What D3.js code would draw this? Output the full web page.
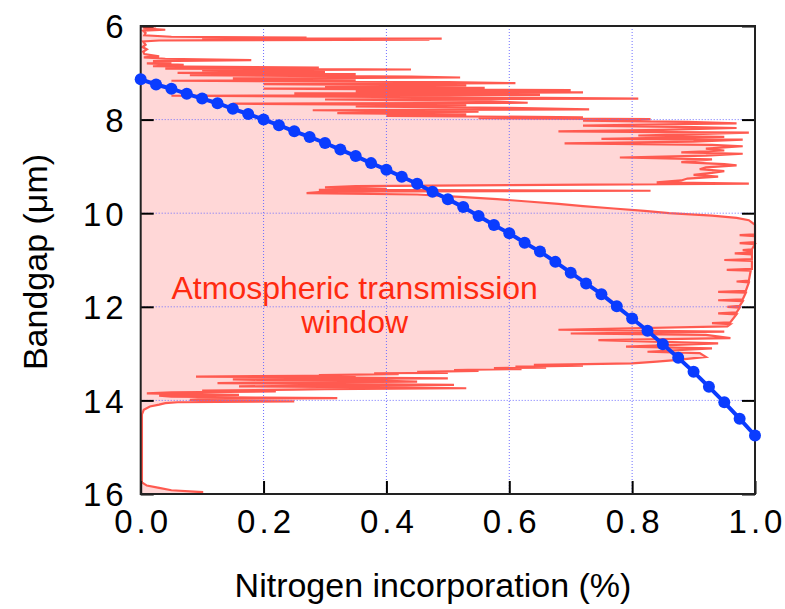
<!DOCTYPE html>
<html>
<head>
<meta charset="utf-8">
<script src="https://cdn.jsdelivr.net/npm/d3@7"></script>
<style>
  body { margin: 0; background: #fff; }
  text { font-family: "Liberation Sans", Arial, sans-serif; }
</style>
</head>
<body>
<div id="chart"></div>
<script>
// Bandgap vs nitrogen incorporation
const nitrogen = [0, 0.025, 0.05, 0.075, 0.1, 0.125, 0.15, 0.175, 0.2, 0.225, 0.25, 0.275, 0.3, 0.325, 0.35, 0.375,
    0.4, 0.425, 0.45, 0.475, 0.5, 0.525, 0.55, 0.575, 0.6, 0.625, 0.65, 0.675, 0.7, 0.725, 0.75, 0.775,
    0.8, 0.825, 0.85, 0.875, 0.9, 0.925, 0.95, 0.975, 1.0];
const bandgap = [7.14, 7.25, 7.34, 7.45, 7.55, 7.65, 7.77, 7.88, 8.00, 8.12, 8.25, 8.37, 8.50, 8.64, 8.78, 8.93,
    9.07, 9.22, 9.37, 9.54, 9.70, 9.87, 10.06, 10.25, 10.43, 10.63, 10.82, 11.04, 11.27, 11.50, 11.73, 11.99,
    12.25, 12.51, 12.80, 13.09, 13.39, 13.71, 14.04, 14.39, 14.75];

// Atmospheric transmission spectrum (wavelength in um, transmission 0..1)
const specWl = [6.00, 6.01, 6.02, 6.04, 6.05, 6.08, 6.10, 6.15, 6.20, 6.23, 6.25, 6.26, 6.27, 6.28, 6.29, 6.31, 6.33,
    6.40, 6.45, 6.50, 6.55, 6.60, 6.65, 6.67, 6.70, 6.73, 6.75, 6.78, 6.80, 6.83, 6.86, 6.89, 6.91, 6.93, 6.95, 6.98,
    7.00, 7.03, 7.05, 7.08, 7.10, 7.12, 7.15, 7.17, 7.20, 7.22, 7.24, 7.27, 7.29, 7.32, 7.34, 7.37, 7.39, 7.42, 7.44,
    7.47, 7.49, 7.52, 7.55, 7.57, 7.60, 7.64, 7.66, 7.69, 7.72, 7.75, 7.78, 7.80, 7.83, 7.86, 7.89, 7.92, 7.95, 7.97,
    7.99, 8.02, 8.05, 8.08, 8.11, 8.13, 8.16, 8.18, 8.22, 8.25, 8.28, 8.31, 8.34, 8.37, 8.41, 8.43, 8.47, 8.51, 8.54,
    8.57, 8.62, 8.66, 8.70, 8.73, 8.77, 8.81, 8.85, 8.91, 8.95, 8.98, 9.02, 9.06, 9.10, 9.14, 9.18, 9.22, 9.26, 9.30,
    9.34, 9.37, 9.40, 9.42, 9.45, 9.48, 9.50, 9.52, 9.54, 9.57, 9.60, 9.65, 9.70, 9.75, 9.80, 9.85, 9.90, 9.95, 10.00,
    10.05, 10.10, 10.15, 10.25, 10.45, 10.47, 10.49, 10.62, 10.64, 10.66, 10.77, 10.79, 10.81, 10.84, 10.86, 10.88,
    10.98, 11.00, 11.02, 11.19, 11.21, 11.23, 11.44, 11.46, 11.48, 11.66, 11.68, 11.70, 11.84, 11.86, 11.88, 11.98,
    12.00, 12.02, 12.12, 12.14, 12.16, 12.33, 12.35, 12.37, 12.42, 12.49, 12.53, 12.57, 12.60, 12.67,
    12.71, 12.78, 12.85, 12.89, 12.96, 12.99, 13.07, 13.14, 13.17, 13.21, 13.23, 13.24, 13.26, 13.28, 13.30, 13.31,
    13.33, 13.35, 13.37, 13.39, 13.41, 13.42, 13.44, 13.46, 13.47, 13.49, 13.51, 13.53, 13.55, 13.56, 13.58, 13.60,
    13.62, 13.63, 13.65, 13.67, 13.69, 13.70, 13.72, 13.74, 13.76, 13.77, 13.79, 13.81, 13.83, 13.85, 13.87, 13.88,
    13.90, 13.92, 13.94, 13.95, 13.97, 13.99, 14.01, 14.02, 14.04, 14.06, 14.09, 14.13, 14.20, 14.30,
    15.75, 15.82, 15.87, 15.92, 15.96, 16.00];
const specT = [0.01, 0.025, 0.004, 0.02, 0.004, 0.04, 0.004, 0.008, 0.006, 0.05, 0.27, 0.10, 0.49, 0.15, 0.47, 0.03, 0.004,
    0.008, 0.003, 0.01, 0.004, 0.006, 0.03, 0.005, 0.04, 0.18, 0.02, 0.05, 0.01, 0.07, 0.02, 0.29, 0.04, 0.44, 0.10, 0.30,
    0.06, 0.35, 0.08, 0.44, 0.52, 0.15, 0.35, 0.05, 0.50, 0.61, 0.20, 0.53, 0.30, 0.56, 0.20, 0.70, 0.35, 0.72, 0.25,
    0.65, 0.05, 0.45, 0.81, 0.30, 0.55, 0.63, 0.15, 0.53, 0.35, 0.60, 0.73, 0.28, 0.55, 0.32, 0.53, 0.40, 0.72, 0.55,
    0.83, 0.72, 0.89, 0.97, 0.80, 0.72, 0.90, 0.97, 0.85, 0.68, 0.99, 0.90, 0.81, 0.95, 0.75, 0.98, 0.90, 0.69, 0.93,
    0.98, 0.92, 0.95, 0.88, 0.98, 0.92, 0.78, 0.93, 0.88, 0.95, 0.97, 0.92, 0.91, 0.95, 0.93, 0.90, 0.94, 0.89, 0.88,
    0.84, 0.99, 0.60, 0.35, 0.30, 0.40, 0.29, 0.83, 0.30, 0.27, 0.45, 0.52, 0.58, 0.63, 0.68, 0.72, 0.77, 0.82, 0.86,
    0.93, 0.97, 0.99, 1.0, 1.0, 0.975, 1.0, 1.0, 0.975, 1.0, 0.995, 0.98, 0.995, 0.995, 0.967, 0.995,
    0.995, 0.95, 0.995, 0.995, 0.954, 0.993, 0.99, 0.97, 0.99, 0.985, 0.94, 0.985, 0.98, 0.94, 0.98, 0.975,
    0.955, 0.975, 0.97, 0.94, 0.97, 0.96, 0.93, 0.96, 0.955, 0.68, 0.95, 0.70, 0.92, 0.96,
    0.745, 0.94, 0.79, 0.93, 0.825, 0.91, 0.92, 0.87, 0.84, 0.80, 0.70, 0.64, 0.72, 0.61, 0.66, 0.575,
    0.62, 0.51, 0.55, 0.45, 0.50, 0.38, 0.42, 0.29, 0.35, 0.09, 0.30, 0.50, 0.15, 0.19, 0.40, 0.45,
    0.20, 0.125, 0.35, 0.51, 0.25, 0.16, 0.40, 0.53, 0.30, 0.25, 0.10, 0.22, 0.05, 0.01, 0.10, 0.16,
    0.03, 0.05, 0.20, 0.32, 0.10, 0.08, 0.15, 0.25, 0.06, 0.04, 0.03, 0.015, 0.005, 0.002,
    0.002, 0.01, 0.03, 0.05, 0.10, 0.10];

const xTicks = [0, 0.2, 0.4, 0.6, 0.8, 1.0];
const yTicks = [6, 8, 10, 12, 14, 16];

const W = 785, H = 609;
const margin = { top: 26, right: 30, bottom: 115, left: 140.7 };
const width = W - margin.left - margin.right,
    height = H - margin.top - margin.bottom;

const svg = d3.select("#chart").append("svg")
    .attr("width", W)
    .attr("height", H);
const g = svg.append("g")
    .attr("transform", `translate(${margin.left},${margin.top})`);

const x = d3.scaleLinear().domain([0, 1]).range([0, width]);
const y = d3.scaleLinear().domain([6, 16]).range([0, height]);

const spectrum = specWl.map((w, i) => ({ wl: w, t: specT[i] }));

// transmission window: pink fill + red outline
g.append("path")
    .datum(spectrum)
    .attr("fill", "#ffd7d7")
    .attr("d", d3.area().y(d => y(d.wl)).x0(x(0)).x1(d => x(d.t)));
g.append("path")
    .datum(spectrum)
    .attr("fill", "none")
    .attr("stroke", "#ff5a50")
    .attr("stroke-width", 2.2)
    .attr("d", d3.line().y(d => y(d.wl)).x(d => x(d.t)));

// dotted grid
const inner = xTicks.slice(1, -1), innerY = yTicks.slice(1, -1);
g.selectAll(".gx").data(inner).enter().append("line")
    .attr("x1", d => x(d)).attr("x2", d => x(d))
    .attr("y1", 0).attr("y2", height)
    .attr("stroke", "#6f6fff").attr("stroke-width", 1).attr("stroke-dasharray", "1,2");
g.selectAll(".gy").data(innerY).enter().append("line")
    .attr("y1", d => y(d)).attr("y2", d => y(d))
    .attr("x1", 0).attr("x2", width)
    .attr("stroke", "#6f6fff").attr("stroke-width", 1).attr("stroke-dasharray", "1,2");

// axes with inward ticks
const tickLen = 13;
const xAxis = g.append("g")
    .attr("transform", `translate(0,${height})`)
    .call(d3.axisBottom(x).tickValues(xTicks).tickSize(-tickLen).tickPadding(16).tickFormat(d3.format(".1f")));
const yAxis = g.append("g")
    .call(d3.axisLeft(y).tickValues(yTicks).tickSize(-tickLen).tickPadding(13));
const yAxisR = g.append("g")
    .attr("transform", `translate(${width},0)`)
    .call(d3.axisRight(y).tickValues(yTicks).tickSize(-tickLen).tickFormat(""));

[xAxis, yAxis, yAxisR].forEach(a => {
    a.select(".domain").remove();
    a.selectAll(".tick line").attr("stroke", "#000").attr("stroke-width", 2);
    a.selectAll("text").attr("fill", "#000").style("font-size", "33px").style("letter-spacing", "4px");
});
xAxis.selectAll("text").attr("dx", "2px");
yAxis.selectAll("text").attr("dy", "0.36em");

// frame
g.append("rect")
    .attr("width", width).attr("height", height)
    .attr("fill", "none").attr("stroke", "#222").attr("stroke-width", 2);

// bandgap curve
const curve = nitrogen.map((n, i) => ({ n: n, b: bandgap[i] }));
g.append("path")
    .datum(curve)
    .attr("fill", "none")
    .attr("stroke", "#0a3cff")
    .attr("stroke-width", 4)
    .attr("d", d3.line().x(d => x(d.n)).y(d => y(d.b)));
g.selectAll(".dot").data(curve).enter().append("circle")
    .attr("cx", d => x(d.n)).attr("cy", d => y(d.b))
    .attr("r", 6)
    .attr("fill", "#0a3cff");

// annotation
const note = g.append("text")
    .attr("x", 214).attr("text-anchor", "middle")
    .attr("fill", "#ff2a10").style("font-size", "32px");
note.append("tspan").attr("x", 214).attr("y", 273).text("Atmospheric transmission");
note.append("tspan").attr("x", 214).attr("y", 307).text("window");

// axis titles
svg.append("text")
    .attr("x", 433).attr("y", 597)
    .attr("text-anchor", "middle")
    .style("font-size", "34px")
    .text("Nitrogen incorporation (%)");
svg.append("text")
    .attr("transform", "translate(47,262) rotate(-90)")
    .attr("text-anchor", "middle")
    .style("font-size", "34px")
    .text("Bandgap (μm)");
</script>
</body>
</html>
